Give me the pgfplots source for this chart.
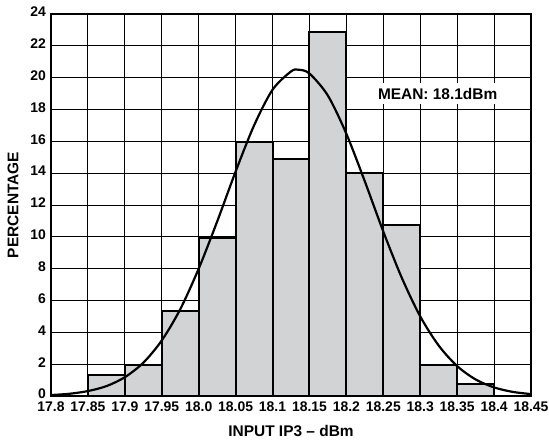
\documentclass[border=0pt]{standalone}
\usepackage{fontspec}
\setmainfont{Liberation Sans}
\usepackage{pgfplots}
\pgfplotsset{compat=1.18}
\definecolor{barfill}{RGB}{209,211,212}

% histogram, bin left edges (last row closes the final bin)
\pgfplotstableread{
x      y
17.85  1.35
17.90  1.95
17.95  5.35
18.00  9.90
18.05  15.95
18.10  14.90
18.15  22.85
18.20  14.00
18.25  10.75
18.30  1.95
18.35  0.75
18.40  0.75
}\histdata

% fitted normal curve
\pgfplotstableread{
x       y
17.800  0.06
17.825  0.14
17.850  0.31
17.875  0.62
17.900  1.18
17.925  2.09
17.950  3.49
17.975  5.45
18.000  8.00
18.025  10.96
18.050  14.10
18.075  17.00
18.100  19.24
18.125  20.39
18.135  20.50
18.150  20.26
18.175  18.87
18.200  16.47
18.225  13.48
18.250  10.33
18.275  7.43
18.300  5.00
18.325  3.17
18.350  1.88
18.375  1.04
18.400  0.54
18.425  0.26
18.450  0.12
}\curvedata

\begin{document}
\begin{tikzpicture}
\begin{axis}[
  name=main,
  scale only axis,
  width=480bp, height=382bp,
  xmin=17.8, xmax=18.45,
  ymin=0, ymax=24,
  xtick={17.8,17.85,17.9,17.95,18.0,18.05,18.1,18.15,18.2,18.25,18.3,18.35,18.4,18.45},
  xticklabels={17.8,17.85,17.9,17.95,18.0,18.05,18.1,18.15,18.2,18.25,18.3,18.35,18.4,18.45},
  ytick={0,2,...,24},
  grid=major,
  major grid style={black, line width=0.9pt},
  axis line style={line width=2pt},
  major tick length=0pt,
  /pgf/number format/assume math mode=true,
  tick label style={font=\bfseries\fontsize{14}{16}\selectfont},
  xticklabel style={inner sep=1pt, yshift=-5bp},
  yticklabel style={inner sep=1pt, xshift=-4bp, yshift=2bp},
  xlabel={INPUT IP3 – dBm},
  ylabel={PERCENTAGE},
  label style={font=\bfseries\fontsize{15.5}{17}\selectfont},
  xlabel style={at={(axis description cs:0.5,0)}, anchor=center, yshift=-35bp},
  ylabel style={at={(axis description cs:0,0.5)}, anchor=center, yshift=38bp},
]
\addplot[ybar interval, fill=barfill, draw=black, line width=2pt]
  table[x=x, y=y] {\histdata};
\addplot[black, line width=2.2pt, smooth, no markers]
  table[x=x, y=y] {\curvedata};
\node[fill=white, inner xsep=3pt, inner ysep=5pt, font=\bfseries\fontsize{15.5}{17}\selectfont]
  at (axis cs:18.3236,19) {MEAN: 18.1dBm};
\end{axis}
\pgfresetboundingbox
\path ([shift={(-51bp,-45bp)}]main.south west) rectangle ([shift={(18bp,14bp)}]main.north east);
\end{tikzpicture}
\end{document}
